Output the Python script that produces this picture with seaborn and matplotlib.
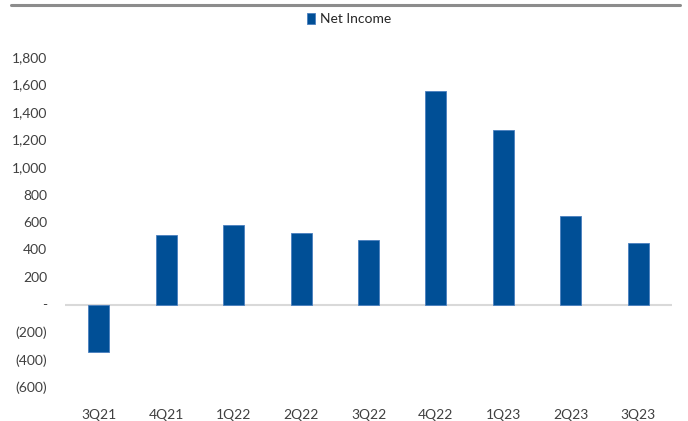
import matplotlib
matplotlib.use("Agg")
import matplotlib.pyplot as plt
from matplotlib.ticker import FuncFormatter, MultipleLocator
from matplotlib.lines import Line2D
import seaborn as sns
import pandas as pd

quarters = ["3Q21", "4Q21", "1Q22", "2Q22", "3Q22", "4Q22", "1Q23", "2Q23", "3Q23"]
net_income = [-348, 507, 580, 522, 471, 1553, 1268, 645, 449]
series_name = "Net Income"

df = pd.DataFrame({"quarter": quarters, "value": net_income, "series": series_name})

sns.set_theme(style="white")
plt.rcParams["font.family"] = ["Lato", "DejaVu Sans"]

fig = plt.figure(figsize=(6.88, 4.21), dpi=100)
ax = fig.add_axes([65/688, 34/421, 607/688, 330/421])

bar_color = "#004f96"
sns.barplot(data=df, x="quarter", y="value", hue="series", palette=[bar_color],
            saturation=1, width=0.31, ax=ax, edgecolor="#4a7fbf", linewidth=0.6,
            legend=True)

ax.set_xlim(-0.5, len(quarters) - 0.5)
ax.set_ylim(-600, 1800)
ax.yaxis.set_major_locator(MultipleLocator(200))

def fmt(v, pos):
    v = int(round(v))
    if v == 0:
        return "-"
    if v < 0:
        return f"({abs(v):,})"
    return f"{v:,}"

ax.yaxis.set_major_formatter(FuncFormatter(fmt))
ax.axhline(0, color="#d9d9d9", linewidth=1.5, zorder=0.5)

for s in ax.spines.values():
    s.set_visible(False)
ax.tick_params(axis="y", length=0, pad=13, labelsize=10, labelcolor="#404040")
ax.tick_params(axis="x", length=0, pad=16, labelsize=10, labelcolor="#404040")
ax.set_xlabel("")
ax.set_ylabel("")

leg = ax.legend(loc="center", bbox_to_anchor=(349/688, 1 - 19/421),
                bbox_transform=fig.transFigure, frameon=False, fontsize=10,
                handlelength=0.6, handleheight=0.9, handletextpad=0.3)
for t in leg.get_texts():
    t.set_color("#262626")

fig.add_artist(Line2D([11/688, 680/688], [1 - 5/421, 1 - 5/421],
                      transform=fig.transFigure, color="#8c8c8c", linewidth=2.2))

fig.savefig("out.png", dpi=100)
